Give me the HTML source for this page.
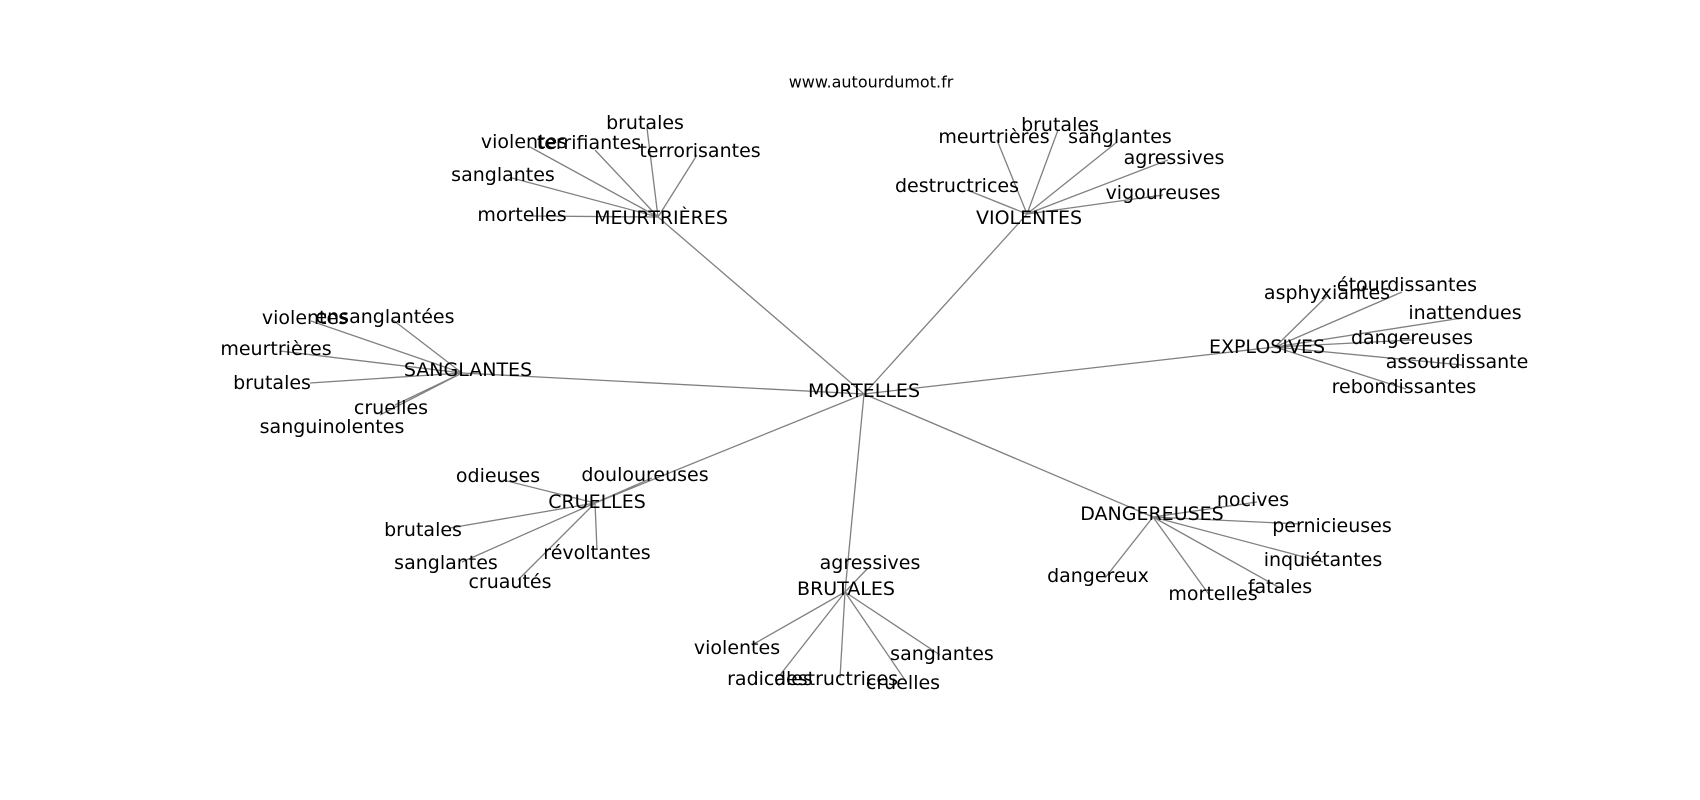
<!DOCTYPE html>
<html><head><meta charset="utf-8"><style>
html,body{margin:0;padding:0;background:#fff;}
svg{display:block;}
text{font-family:"DejaVu Sans","Liberation Sans",sans-serif;font-size:19px;fill:#000;text-anchor:middle;dominant-baseline:central;}
line{stroke:#808080;stroke-width:1.3;}
</style></head><body>
<svg width="1700" height="800" viewBox="0 0 1700 800" xmlns="http://www.w3.org/2000/svg">
<defs><clipPath id="c"><rect x="0" y="0" width="1529" height="800"/></clipPath></defs>
<g clip-path="url(#c)">
<!-- main edges -->
<line x1="864" y1="394" x2="658" y2="217"/>
<line x1="864" y1="394" x2="1027" y2="214"/>
<line x1="864" y1="394" x2="1275" y2="347"/>
<line x1="864" y1="394" x2="462" y2="373"/>
<line x1="864" y1="394" x2="595" y2="503"/>
<line x1="864" y1="394" x2="845" y2="592"/>
<line x1="864" y1="394" x2="1153" y2="517"/>
<!-- MEURTRIERES -->
<line x1="658" y1="217" x2="530" y2="147"/>
<line x1="658" y1="217" x2="595" y2="150"/>
<line x1="658" y1="217" x2="647" y2="128"/>
<line x1="658" y1="217" x2="697" y2="155"/>
<line x1="658" y1="217" x2="512" y2="178"/>
<line x1="658" y1="217" x2="527" y2="216"/>
<!-- VIOLENTES -->
<line x1="1027" y1="214" x2="997" y2="140"/>
<line x1="1027" y1="214" x2="1058" y2="130"/>
<line x1="1027" y1="214" x2="1117" y2="142"/>
<line x1="1027" y1="214" x2="1168" y2="160"/>
<line x1="1027" y1="214" x2="967" y2="190"/>
<line x1="1027" y1="214" x2="1163" y2="195"/>
<!-- EXPLOSIVES -->
<line x1="1275" y1="347" x2="1327" y2="296"/>
<line x1="1275" y1="347" x2="1402" y2="292"/>
<line x1="1275" y1="347" x2="1462" y2="318"/>
<line x1="1275" y1="347" x2="1412" y2="340"/>
<line x1="1275" y1="347" x2="1462" y2="365"/>
<line x1="1275" y1="347" x2="1406" y2="389"/>
<!-- SANGLANTES -->
<line x1="462" y1="373" x2="311" y2="321"/>
<line x1="462" y1="373" x2="393" y2="320"/>
<line x1="462" y1="373" x2="280" y2="351"/>
<line x1="462" y1="373" x2="310" y2="383"/>
<line x1="462" y1="373" x2="395" y2="405"/>
<line x1="462" y1="373" x2="380" y2="415"/>
<!-- CRUELLES -->
<line x1="595" y1="503" x2="503" y2="480"/>
<line x1="595" y1="503" x2="652" y2="478"/>
<line x1="595" y1="503" x2="450" y2="528"/>
<line x1="595" y1="503" x2="462" y2="562"/>
<line x1="595" y1="503" x2="518" y2="580"/>
<line x1="595" y1="503" x2="597" y2="550"/>
<!-- BRUTALES -->
<line x1="845" y1="592" x2="868" y2="568"/>
<line x1="845" y1="592" x2="752" y2="645"/>
<line x1="845" y1="592" x2="780" y2="675"/>
<line x1="845" y1="592" x2="840" y2="678"/>
<line x1="845" y1="592" x2="905" y2="680"/>
<line x1="845" y1="592" x2="940" y2="655"/>
<!-- DANGEREUSES -->
<line x1="1153" y1="517" x2="1257" y2="502"/>
<line x1="1153" y1="517" x2="1300" y2="524"/>
<line x1="1153" y1="517" x2="1323" y2="562"/>
<line x1="1153" y1="517" x2="1280" y2="588"/>
<line x1="1153" y1="517" x2="1210" y2="596"/>
<line x1="1153" y1="517" x2="1105" y2="578"/>

<text x="871" y="82" style="font-size:16px">www.autourdumot.fr</text>
<text x="864" y="391">MORTELLES</text>

<text x="661" y="218">MEURTRIÈRES</text>
<text x="524" y="142">violentes</text>
<text x="589" y="143">terrifiantes</text>
<text x="645" y="123">brutales</text>
<text x="700" y="151">terrorisantes</text>
<text x="503" y="175">sanglantes</text>
<text x="522" y="215">mortelles</text>

<text x="1029" y="218">VIOLENTES</text>
<text x="994" y="137">meurtrières</text>
<text x="1060" y="125">brutales</text>
<text x="1120" y="137">sanglantes</text>
<text x="1174" y="158">agressives</text>
<text x="957" y="186">destructrices</text>
<text x="1163" y="193">vigoureuses</text>

<text x="1267" y="347">EXPLOSIVES</text>
<text x="1327" y="293">asphyxiantes</text>
<text x="1407" y="285">étourdissantes</text>
<text x="1465" y="313">inattendues</text>
<text x="1412" y="338">dangereuses</text>
<text x="1462" y="362">assourdissantes</text>
<text x="1404" y="387">rebondissantes</text>

<text x="468" y="370">SANGLANTES</text>
<text x="305" y="318">violentes</text>
<text x="385" y="317">ensanglantées</text>
<text x="276" y="349">meurtrières</text>
<text x="272" y="383">brutales</text>
<text x="391" y="408">cruelles</text>
<text x="332" y="427">sanguinolentes</text>

<text x="597" y="502">CRUELLES</text>
<text x="498" y="476">odieuses</text>
<text x="645" y="475">douloureuses</text>
<text x="423" y="530">brutales</text>
<text x="446" y="563">sanglantes</text>
<text x="510" y="582">cruautés</text>
<text x="597" y="553">révoltantes</text>

<text x="846" y="589">BRUTALES</text>
<text x="870" y="563">agressives</text>
<text x="737" y="648">violentes</text>
<text x="770" y="679">radicales</text>
<text x="836" y="679">destructrices</text>
<text x="903" y="683">cruelles</text>
<text x="942" y="654">sanglantes</text>

<text x="1152" y="514">DANGEREUSES</text>
<text x="1253" y="500">nocives</text>
<text x="1332" y="526">pernicieuses</text>
<text x="1323" y="560">inquiétantes</text>
<text x="1280" y="587">fatales</text>
<text x="1213" y="594">mortelles</text>
<text x="1098" y="576">dangereux</text>
</g>
</svg>
</body></html>
